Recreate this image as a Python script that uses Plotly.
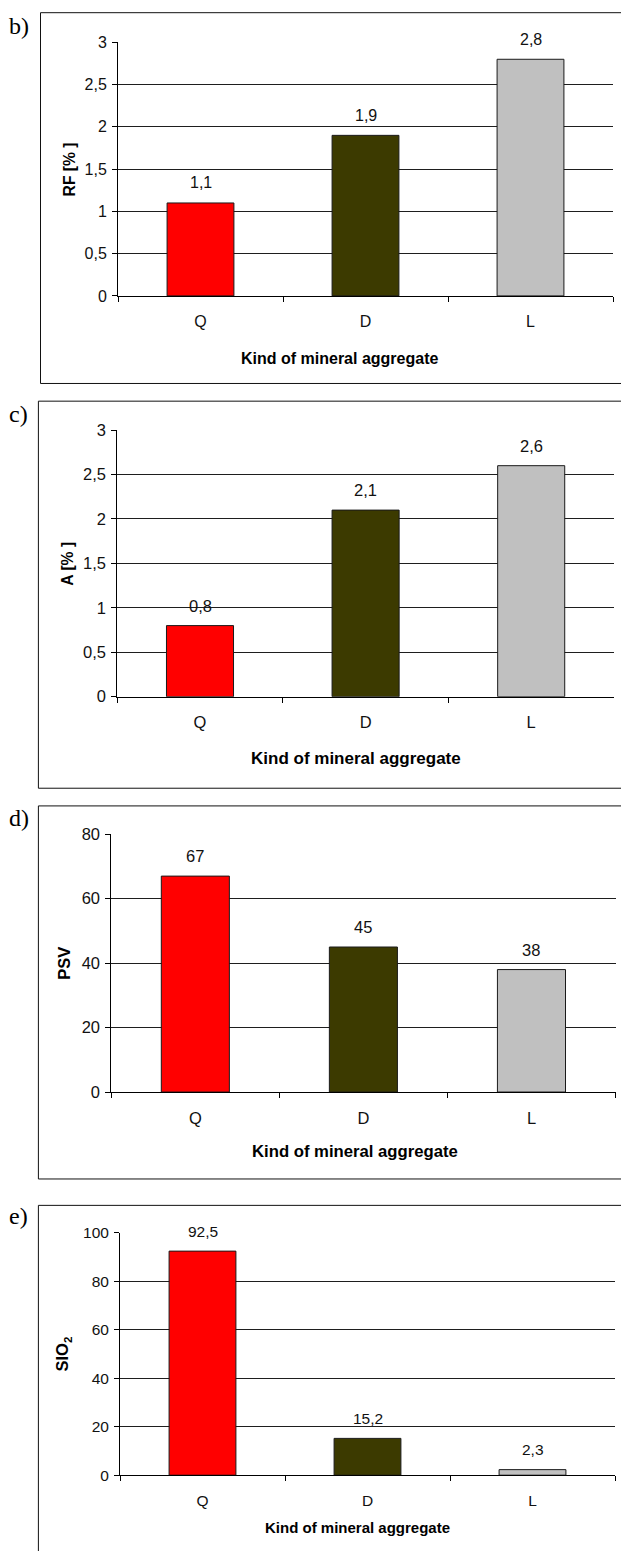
import plotly.graph_objects as go

# ---- data -------------------------------------------------------------
categories = ["Q", "D", "L"]
rf_values = [1.1, 1.9, 2.8]
a_values = [0.8, 2.1, 2.6]
psv_values = [67, 45, 38]
sio2_values = [92.5, 15.2, 2.3]

panel_letters = ["b)", "c)", "d)", "e)"]
y_titles = ["RF [% ]", "A [% ]", "PSV", "SIO<sub>2</sub>"]
x_title = "Kind of mineral aggregate"
y_ranges = [[0, 3], [0, 3], [0, 80], [0, 100]]
y_steps = [0.5, 0.5, 20, 20]

series = [rf_values, a_values, psv_values, sio2_values]

# ---- styling / geometry (pixels) -------------------------------------
W, H = 621, 1551
Y_SCALE, Y_OFF = 0.989, 8.6   # vertical page placement correction
bar_colors = ["#ff0000", "#3c3a00", "#c0c0c0"]
# plot areas: left, right, top, bottom
plot_boxes = [
    (118.0, 613.0, 42.0, 295.7),
    (117.2, 614.0, 430.0, 696.7),
    (111.3, 615.5, 834.3, 1092.3),
    (120.0, 615.0, 1233.3, 1475.7),
]
# outer frames: left, top, bottom
frames = [
    (40.5, 12.3, 383.3),
    (38.4, 401.0, 788.3),
    (38.4, 806.0, 1179.3),
    (38.4, 1205.7, 1575.0),
]
ytitle_x = [69.3, 67.3, 64.6, 63.4]
xtitle_pos = [(339, 358.3), (356, 759.0), (354.5, 1151.7), (357, 1528.3)]
letter_y = [26, 414, 818, 1216]
tick_sizes = [16, 16.5, 16.5, 15.5]
title_sizes = [16, 17, 16.7, 15]
ytitle_sizes = [15.7, 15.7, 16.5, 16.5]

SANS = "Liberation Sans, Arial, sans-serif"
SERIF = "Liberation Serif, Times New Roman, serif"
TXT = "#111111"


def px_x(v):
    return v / W


def px_y(v):
    return 1 - ((v - Y_OFF) / Y_SCALE) / H


def fmt(v):
    return f"{v:g}".replace(".", ",")


fig = go.Figure()
layout = dict(
    width=W,
    height=H,
    margin=dict(l=0, r=0, t=0, b=0),
    paper_bgcolor="white",
    plot_bgcolor="white",
    showlegend=False,
    separators=",.",
    font=dict(family=SANS, size=15, color=TXT),
)
annotations = []
shapes = []

for i, vals in enumerate(series):
    n = i + 1
    xl, xr, yt, yb = plot_boxes[i]
    xs = "x" if n == 1 else f"x{n}"
    ys = "y" if n == 1 else f"y{n}"
    fs = tick_sizes[i]

    fig.add_trace(
        go.Bar(
            x=categories,
            y=vals,
            width=0.405,
            marker=dict(color=bar_colors, line=dict(color="#1a1a1a", width=1)),
            xaxis=xs,
            yaxis=ys,
            hoverinfo="skip",
        )
    )

    layout[f"xaxis{n}"] = dict(
        domain=[px_x(xl), px_x(xr)],
        anchor=ys,
        type="category",
        range=[-0.5, len(categories) - 0.5],
        showline=True,
        linecolor="#000000",
        linewidth=1,
        ticks="outside",
        tickson="boundaries",
        ticklen=5,
        tickcolor="#000000",
        ticklabelstandoff=11,
        showgrid=False,
        zeroline=False,
        tickfont=dict(family=SANS, size=fs, color=TXT),
        fixedrange=True,
    )
    layout[f"yaxis{n}"] = dict(
        domain=[px_y(yb), px_y(yt)],
        anchor=xs,
        range=y_ranges[i],
        dtick=y_steps[i],
        tick0=0,
        showline=True,
        linecolor="#000000",
        linewidth=1,
        ticks="outside",
        ticklen=5,
        tickcolor="#000000",
        ticklabelstandoff=2,
        showgrid=True,
        gridcolor="#1e1e1e",
        gridwidth=1,
        zeroline=False,
        tickfont=dict(family=SANS, size=fs, color=TXT),
        fixedrange=True,
    )
    # grey plot-area border on the top and right edges
    layout[f"xaxis{n + 4}"] = dict(
        overlaying=xs,
        anchor=ys,
        side="top",
        showline=True,
        linecolor="#a6a6a6",
        linewidth=1,
        showticklabels=False,
        ticks="",
        showgrid=False,
        zeroline=False,
        fixedrange=True,
    )
    layout[f"yaxis{n + 4}"] = dict(
        overlaying=ys,
        anchor=xs,
        side="right",
        showline=True,
        linecolor="#a6a6a6",
        linewidth=1,
        showticklabels=False,
        ticks="",
        showgrid=False,
        zeroline=False,
        fixedrange=True,
    )

    # value labels above the bars
    for c, v in zip(categories, vals):
        annotations.append(
            dict(
                x=c, y=v, xref=xs, yref=ys,
                text=fmt(v), showarrow=False,
                yshift=20, yanchor="middle", xanchor="center",
                font=dict(family=SANS, size=fs, color=TXT),
            )
        )

    # axis titles
    annotations.append(
        dict(
            x=px_x(ytitle_x[i]), y=px_y((yt + yb) / 2), xref="paper", yref="paper",
            text=f"<b>{y_titles[i]}</b>", textangle=-90, showarrow=False,
            xanchor="center", yanchor="middle",
            font=dict(family=SANS, size=ytitle_sizes[i], color="#000000"),
        )
    )
    tx, ty = xtitle_pos[i]
    annotations.append(
        dict(
            x=px_x(tx), y=px_y(ty), xref="paper", yref="paper",
            text=f"<b>{x_title}</b>", showarrow=False,
            xanchor="center", yanchor="middle",
            font=dict(family=SANS, size=title_sizes[i], color="#000000"),
        )
    )
    # panel letter
    annotations.append(
        dict(
            x=px_x(7), y=px_y(letter_y[i]), xref="paper", yref="paper",
            text=panel_letters[i], showarrow=False,
            xanchor="left", yanchor="middle",
            font=dict(family=SERIF, size=24, color="#000000"),
        )
    )

    # outer chart frame
    fl, ft, fb = frames[i]
    shapes.append(
        dict(
            type="rect", xref="paper", yref="paper",
            x0=px_x(fl), x1=px_x(W + 10), y0=px_y(fb), y1=px_y(ft),
            line=dict(color="#111111", width=1), fillcolor="rgba(0,0,0,0)",
            layer="below",
        )
    )

layout["annotations"] = annotations
layout["shapes"] = shapes
fig.update_layout(**layout)

fig.write_html("out.html", config={"displayModeBar": False})
